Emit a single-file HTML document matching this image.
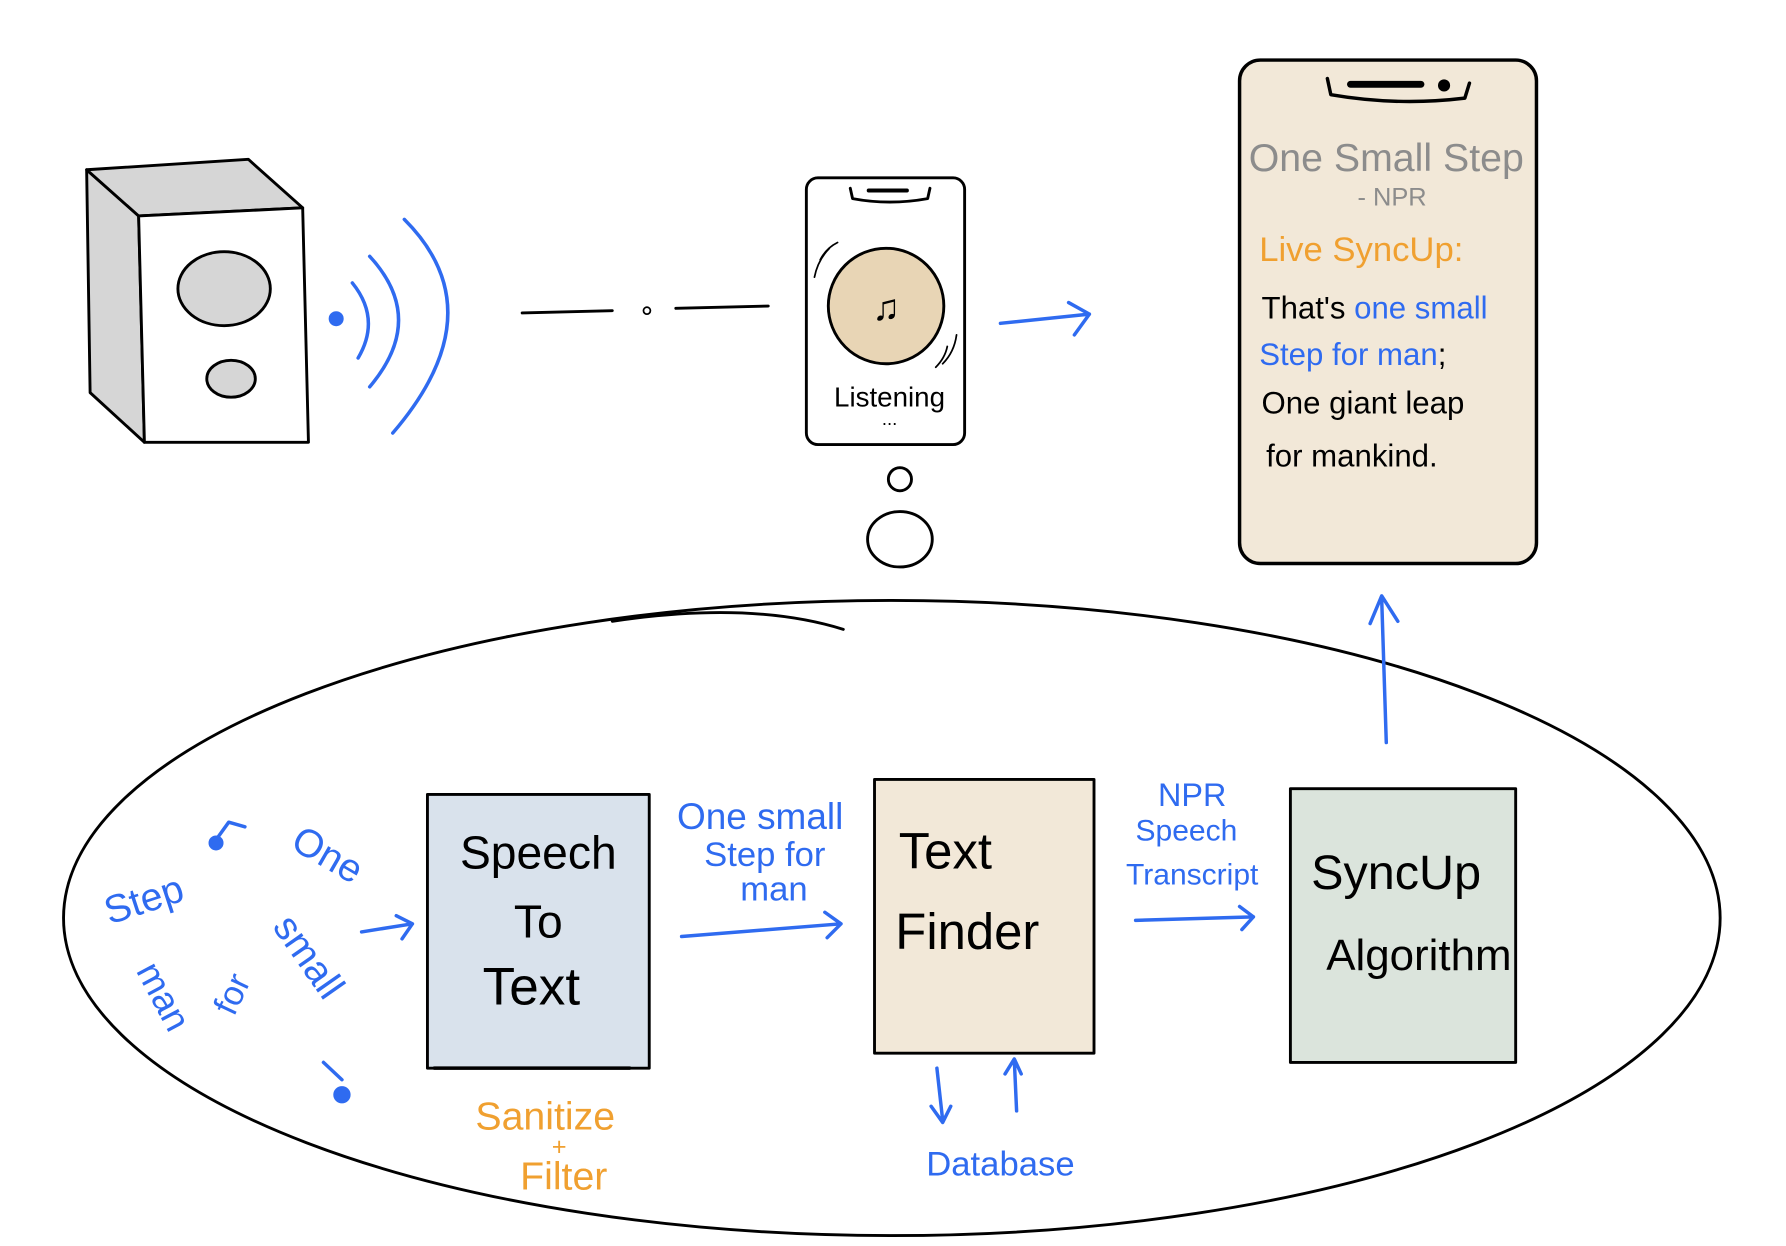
<!DOCTYPE html>
<html><head><meta charset="utf-8"><style>
html,body{margin:0;padding:0;background:#fff;width:1786px;height:1246px;overflow:hidden}
svg{display:block}
text{font-family:"Liberation Sans",sans-serif}
</style></head><body>
<svg width="1786" height="1246" viewBox="0 0 1546 1079" preserveAspectRatio="none" xmlns="http://www.w3.org/2000/svg">
<g fill="none" stroke="#000" stroke-width="2.5" stroke-linecap="round" stroke-linejoin="round">
<!-- speaker -->
<polygon points="75,147 120,187 125,383 78,340" fill="#d6d6d6"/>
<polygon points="75,147 215,138 262,180 120,187" fill="#d6d6d6"/>
<path d="M120,187 L262,180 L267,383 L125,383 Z" fill="#fff"/>
<ellipse cx="194" cy="250" rx="40" ry="32" fill="#d6d6d6"/>
<ellipse cx="200" cy="328" rx="21" ry="16" fill="#d6d6d6"/>
<!-- dashes -->
<path d="M452,271 L530,269 M585,267 L665,265"/>
<circle cx="560" cy="269" r="3" stroke-width="1.5"/>
<!-- small phone -->
<rect x="698" y="154" width="137" height="231" rx="10" fill="#fff"/>
<path d="M736,163 L738,172 Q770,178 803,172 L805,163"/>
<path d="M752,165 L785,165" stroke-width="3.5"/>
<circle cx="767" cy="265" r="50" fill="#e8d5b5"/>
<path d="M710,225 Q715,215 725,210 M705,240 Q708,225 718,215 M820,300 Q818,310 810,318 M828,290 Q826,305 816,315" stroke-width="1.5"/>
<circle cx="779" cy="415" r="10"/>
<ellipse cx="779" cy="467" rx="28" ry="24"/>
<!-- big phone -->
<rect x="1073" y="52" width="257" height="436" rx="18" fill="#f2e8d8" stroke-width="3"/>
<path d="M1149,68 L1152,82 Q1210,92 1268,85 L1272,72" stroke-width="3"/>
<path d="M1169,73 L1230,73" stroke-width="6"/>
<circle cx="1250" cy="74" r="4" fill="#000"/>
<!-- big ellipse -->
<ellipse cx="772" cy="795" rx="717" ry="275"/>
<path d="M530,538 Q650,520 730,545"/>
<!-- boxes -->
<rect x="370" y="688" width="192" height="237" fill="#d9e2ec"/>
<path d="M376,925 L545,925" stroke-width="3"/>
<rect x="757" y="675" width="190" height="237" fill="#f2e8d8"/>
<rect x="1117" y="683" width="195" height="237" fill="#dbe4dc"/>
</g>
<g fill="none" stroke="#2f6bf0" stroke-width="3" stroke-linecap="round" stroke-linejoin="round">
<circle cx="291" cy="276" r="5" fill="#2f6bf0"/>
<path d="M305,245 Q330,276 310,310"/>
<path d="M320,222 Q370,276 320,335"/>
<path d="M350,190 Q430,270 340,375"/>
<path d="M866,280 L943,272 M925,262 L943,272 L930,290"/>
<path d="M1200,643 L1196,518 M1186,540 L1196,516 L1210,538"/>
<path d="M313,807 L357,800 M343,793 L357,800 L348,813"/>
<path d="M590,811 L728,800 M714,790 L728,800 L716,812"/>
<path d="M983,797 L1085,794 M1073,785 L1085,794 L1075,805"/>
<path d="M811,925 L816,970 M806,958 L816,972 L823,958"/>
<path d="M880,962 L878,918 M870,930 L878,917 L884,930"/>
<path d="M185,730 L198,712 L212,716" /><circle cx="187" cy="730" r="5" fill="#2f6bf0"/>
<path d="M280,920 L296,935"/><circle cx="296" cy="948" r="6" fill="#2f6bf0"/>
</g>
<g font-size="30" fill="#000">
<text x="767" y="277" text-anchor="middle" font-size="32">♫</text>
<text x="770" y="352" text-anchor="middle" font-size="24">Listening</text>
<text x="770" y="368" text-anchor="middle" font-size="16">...</text>
<text x="1200" y="148" text-anchor="middle" fill="#8c8c8c" font-size="34">One Small Step</text>
<text x="1205" y="178" text-anchor="middle" fill="#8c8c8c" font-size="22">- NPR</text>
<text x="1090" y="226" fill="#f0a030" font-size="30">Live SyncUp:</text>
<text x="1092" y="276" font-size="27">That's <tspan fill="#2f6bf0">one small</tspan></text>
<text x="1090" y="316" font-size="27"><tspan fill="#2f6bf0">Step for man</tspan>;</text>
<text x="1092" y="358" font-size="27">One giant leap</text>
<text x="1096" y="404" font-size="27">for mankind.</text>
<text x="466" y="752" text-anchor="middle" font-size="40">Speech</text>
<text x="466" y="812" text-anchor="middle" font-size="40">To</text>
<text x="460" y="870" text-anchor="middle" font-size="46">Text</text>
<text x="778" y="752" font-size="44">Text</text>
<text x="775" y="822" font-size="44">Finder</text>
<text x="1135" y="770" font-size="42">SyncUp</text>
<text x="1148" y="840" font-size="38">Algorithm</text>
<text x="472" y="978" text-anchor="middle" fill="#f0a030" font-size="34">Sanitize</text>
<text x="484" y="1000" text-anchor="middle" fill="#f0a030" font-size="22">+</text>
<text x="488" y="1030" text-anchor="middle" fill="#f0a030" font-size="34">Filter</text>
<text x="866" y="1018" text-anchor="middle" fill="#2f6bf0" font-size="30">Database</text>
<g fill="#2f6bf0" text-anchor="middle">
<text x="658" y="718" font-size="32">One small</text>
<text x="662" y="750" font-size="30">Step for</text>
<text x="670" y="780" font-size="30">man</text>
<text x="1032" y="698" font-size="28">NPR</text>
<text x="1027" y="728" font-size="26">Speech</text>
<text x="1032" y="766" font-size="26">Transcript</text>
<text x="0" y="0" font-size="34" transform="translate(128,790) rotate(-18)">Step</text>
<text x="0" y="0" font-size="34" transform="translate(278,750) rotate(30)">One</text>
<text x="0" y="0" font-size="34" transform="translate(258,835) rotate(55)">small</text>
<text x="0" y="0" font-size="32" transform="translate(132,868) rotate(62)">man</text>
<text x="0" y="0" font-size="30" transform="translate(210,865) rotate(-65)">for</text>
</g>
</g>
</svg>
</body></html>
